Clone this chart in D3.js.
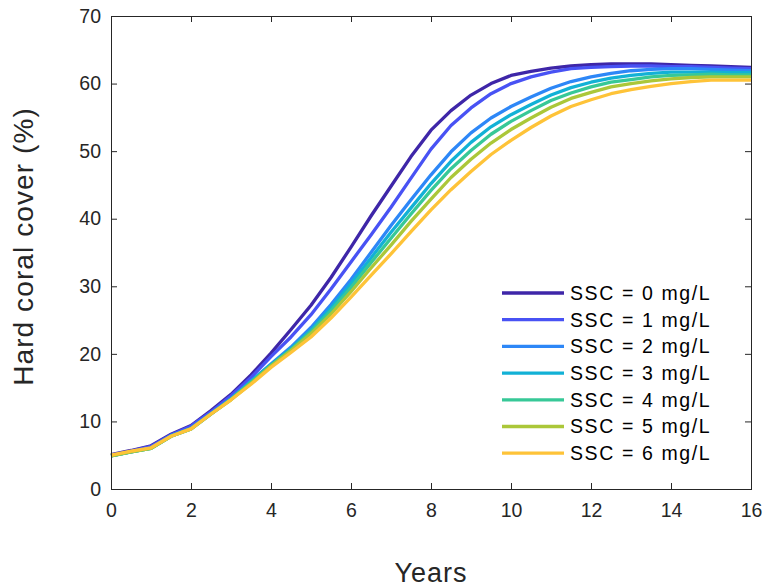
<!DOCTYPE html>
<html>
<head>
<meta charset="utf-8">
<script src="https://cdn.jsdelivr.net/npm/d3@7"></script>
<style>
  body { margin: 0; background: #fff; }
  svg { display: block; font-family: "Liberation Sans", Arial, sans-serif; }
</style>
</head>
<body>
<svg></svg>
<script>

// years, half year steps
var years = [0, 0.5, 1, 1.5, 2, 2.5, 3, 3.5, 4, 4.5, 5, 5.5, 6, 6.5, 7, 7.5, 8,
  8.5, 9, 9.5, 10, 10.5, 11, 11.5, 12, 12.5, 13, 13.5, 14, 14.5, 15, 15.5, 16]

var labels = ["SSC = 0 mg/L", "SSC = 1 mg/L", "SSC = 2 mg/L", "SSC = 3 mg/L",
  "SSC = 4 mg/L", "SSC = 5 mg/L", "SSC = 6 mg/L"]

// hard coral cover (%) per SSC level
var ssc0 = [5.1, 5.7, 6.4, 8.1, 9.4, 11.6, 14.0, 16.9, 20.1, 23.6, 27.2, 31.3, 35.8, 40.4, 44.8, 49.2, 53.1,
  56.0, 58.3, 60.0, 61.2, 61.8, 62.3, 62.6, 62.8, 62.9, 62.9, 62.9, 62.8, 62.7, 62.6, 62.5, 62.4]
var ssc1 = [5.0, 5.6, 6.3, 8.0, 9.3, 11.4, 13.8, 16.5, 19.6, 22.5, 25.8, 29.6, 33.6, 37.6, 41.7, 46.0, 50.3,
  53.8, 56.4, 58.5, 60.0, 61.0, 61.7, 62.2, 62.4, 62.5, 62.6, 62.6, 62.5, 62.5, 62.4, 62.3, 62.2]
var ssc2 = [4.9, 5.5, 6.1, 7.9, 9.0, 11.2, 13.4, 16.0, 18.5, 21.0, 23.9, 27.3, 31.0, 35.0, 39.0, 42.8, 46.5,
  49.9, 52.7, 54.9, 56.6, 58.0, 59.3, 60.3, 61.0, 61.5, 61.9, 62.1, 62.2, 62.2, 62.1, 62.0, 61.9]
var ssc3 = [4.9, 5.5, 6.0, 7.8, 8.9, 11.1, 13.3, 15.9, 18.4, 20.8, 23.5, 26.8, 30.4, 34.2, 38.0, 41.6, 45.2,
  48.5, 51.3, 53.6, 55.4, 56.9, 58.3, 59.4, 60.2, 60.8, 61.2, 61.5, 61.7, 61.7, 61.7, 61.6, 61.6]
var ssc4 = [4.9, 5.5, 6.0, 7.8, 8.9, 11.1, 13.3, 15.8, 18.3, 20.6, 23.3, 26.4, 29.8, 33.5, 37.1, 40.7, 44.2,
  47.4, 50.1, 52.5, 54.4, 56.0, 57.5, 58.6, 59.5, 60.2, 60.6, 61.0, 61.2, 61.3, 61.4, 61.3, 61.3]
var ssc5 = [4.9, 5.5, 6.0, 7.8, 8.9, 11.1, 13.2, 15.6, 18.2, 20.5, 23.0, 25.9, 29.2, 32.7, 36.1, 39.6, 42.9,
  46.1, 48.8, 51.2, 53.2, 54.9, 56.5, 57.8, 58.7, 59.5, 60.0, 60.4, 60.7, 60.9, 61.0, 61.0, 61.0]
var ssc6 = [5.0, 5.6, 6.1, 7.8, 8.9, 11.1, 13.2, 15.5, 18.0, 20.2, 22.5, 25.3, 28.4, 31.6, 34.8, 38.1, 41.3,
  44.3, 47.0, 49.5, 51.6, 53.5, 55.2, 56.6, 57.6, 58.5, 59.1, 59.6, 60.0, 60.3, 60.5, 60.5, 60.5]

var colors = ["#3e26a8", "#4852f4", "#2d87f7", "#12b1d6", "#37c897", "#abc739", "#fec338"]

var xTicks = [0, 2, 4, 6, 8, 10, 12, 14, 16]
var yTicks = [0, 10, 20, 30, 40, 50, 60, 70]

var allSeries = [ssc0, ssc1, ssc2, ssc3, ssc4, ssc5, ssc6]

var width = 764, height = 588
var margin = { top: 16, right: 13, bottom: 99, left: 111 }
var w = width - margin.left - margin.right
var h = height - margin.top - margin.bottom
var axisColor = "#262626"

var svg = d3.select("svg")
  .attr("width", width)
  .attr("height", height)

var g = svg.append("g")
  .attr("transform", "translate(" + margin.left + "," + margin.top + ")")

var x = d3.scaleLinear().domain([0, 16]).range([0, w])
var y = d3.scaleLinear().domain([0, 70]).range([h, 0])

//lines
var line = d3.line()
  .x(function (d, i) { return x(years[i]) })
  .y(function (d) { return y(d) })

g.selectAll("path.series")
  .data(allSeries)
  .enter()
  .append("path")
  .attr("class", "series")
  .attr("d", line)
  .attr("fill", "none")
  .attr("stroke", function (d, i) { return colors[i] })
  .attr("stroke-width", 3.3)
  .attr("stroke-linejoin", "round")

//axes, ticks pointing inward like matlab
function styleAxis(sel) {
  sel.select(".domain").remove()
  sel.selectAll(".tick line").attr("stroke", axisColor)
  sel.selectAll(".tick text")
    .attr("fill", "#262626")
    .style("font-size", "19.5px")
    .style("font-family", "'Liberation Sans', Arial, sans-serif")
}

g.append("g")
  .attr("transform", "translate(0," + h + ")")
  .call(d3.axisBottom(x).tickValues(xTicks).tickSize(-6).tickPadding(14))
  .call(styleAxis)

g.append("g")
  .call(d3.axisLeft(y).tickValues(yTicks).tickSize(-6).tickPadding(10))
  .call(styleAxis)

g.append("g")
  .call(d3.axisTop(x).tickValues(xTicks).tickSize(-6).tickFormat(""))
  .call(styleAxis)

g.append("g")
  .attr("transform", "translate(" + w + ",0)")
  .call(d3.axisRight(y).tickValues(yTicks).tickSize(-6).tickFormat(""))
  .call(styleAxis)

// box
g.append("rect")
  .attr("width", w)
  .attr("height", h)
  .attr("fill", "none")
  .attr("stroke", axisColor)
  .attr("stroke-width", 1)
  .attr("shape-rendering", "crispEdges")

//axis titles
svg.append("text")
  .attr("x", margin.left + w / 2)
  .attr("y", 582)
  .attr("text-anchor", "middle")
  .attr("fill", "#262626")
  .style("font-size", "27px")
  .style("letter-spacing", "1px")
  .text("Years")

svg.append("text")
  .attr("transform", "translate(33," + (margin.top + h / 2 - 6) + ") rotate(-90)")
  .attr("text-anchor", "middle")
  .attr("fill", "#262626")
  .style("font-size", "28px")
  .style("letter-spacing", "1.1px")
  .text("Hard coral cover (%)")

//legend
var legend = g.selectAll("g.legend")
  .data(labels)
  .enter()
  .append("g")
  .attr("class", "legend")
  .attr("transform", function (d, i) {
    return "translate(" + (502 - margin.left) + "," + (293 - margin.top + i * 26.7) + ")"
  })

legend.append("line")
  .attr("x1", 0)
  .attr("x2", 62)
  .attr("stroke", function (d, i) { return colors[i] })
  .attr("stroke-width", 3.3)

legend.append("text")
  .attr("x", 68)
  .attr("dy", "0.35em")
  .attr("fill", "#000")
  .style("font-size", "19.5px")
  .style("letter-spacing", "1.6px")
  .text(function (d) { return d })

</script>
</body>
</html>
